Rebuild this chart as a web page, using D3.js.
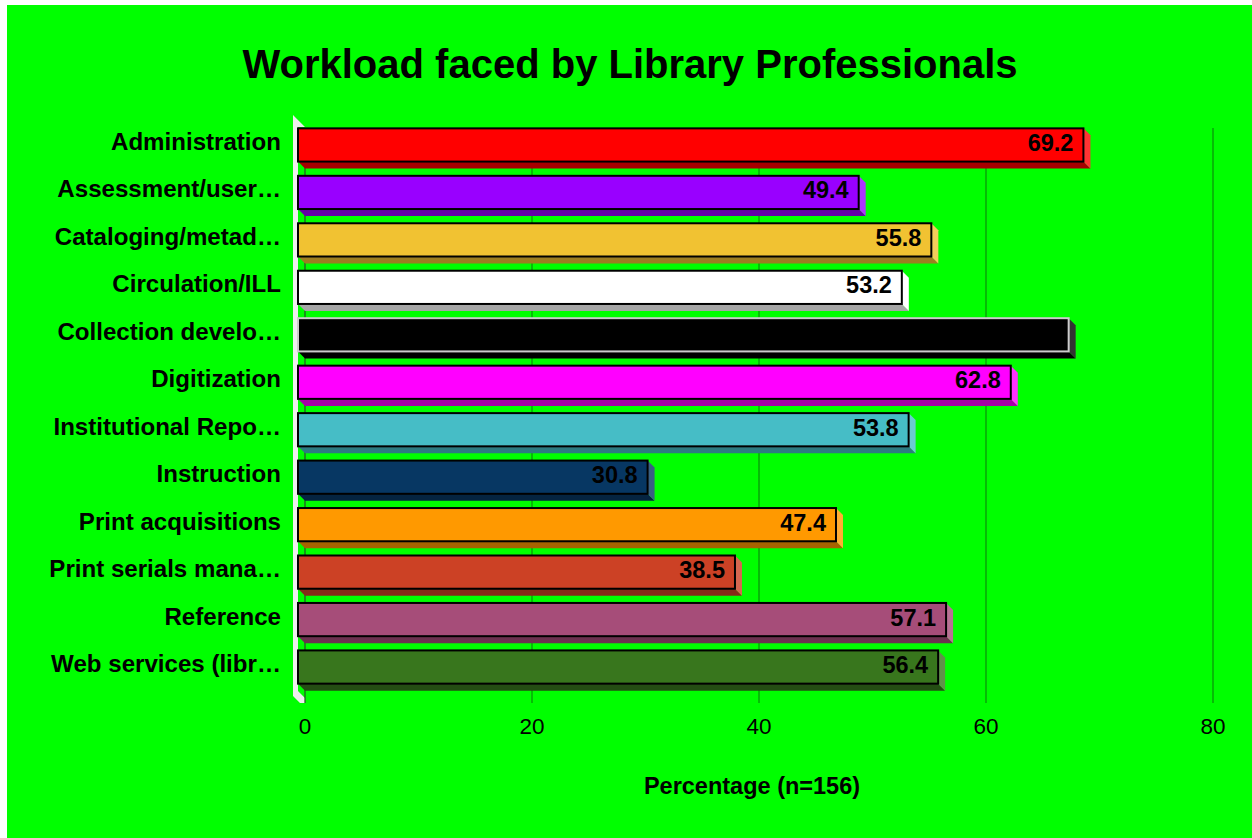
<!DOCTYPE html>
<html>
<head>
<meta charset="utf-8">
<script src="https://cdn.jsdelivr.net/npm/d3@7"></script>
<style>
  html, body { margin: 0; padding: 0; background: #fff; }
  svg { display: block; font-family: "Liberation Sans", Arial, sans-serif; }
</style>
</head>
<body>
<svg id="chart" width="1252" height="838"></svg>
<script>
// chart data
const categories = [
    "Administration", "Assessment/user…", "Cataloging/metad…", "Circulation/ILL",
    "Collection develo…", "Digitization", "Institutional Repo…", "Instruction",
    "Print acquisitions", "Print serials mana…", "Reference", "Web services (libr…"
];
const values = [69.2, 49.4, 55.8, 53.2, 67.9, 62.8, 53.8, 30.8, 47.4, 38.5, 57.1, 56.4];
const barColors = [
    "#ff0000", "#9900ff", "#f1c232", "#ffffff", "#000000", "#ff00ff",
    "#46bdc6", "#073763", "#ff9900", "#cc4125", "#a64d79", "#38761d"
];
const xTicks = [0, 20, 40, 60, 80];

const svg = d3.select('#chart');
const width = 1252;
const height = 838;
const depth = 7;

svg.append('rect')
    .attr('x', 7)
    .attr('y', 5)
    .attr('width', width - 7)
    .attr('height', height - 5)
    .attr('fill', '#00ff00');

const xScale = d3.scaleLinear()
    .domain([0, 80])
    .range([298, 1206]);

const yScale = d3.scaleBand()
    .domain(categories)
    .range([121, 691])
    .paddingInner(0.3)
    .paddingOuter(0.155);

const x0 = xScale(0);
const [yTop, yBottom] = yScale.range();

// left wall
const wallPts = [
    [x0 - 5, yTop - 6], [x0 + depth, yTop + 6], [x0, yTop + 6], [x0, yBottom],
    [x0 + depth, yBottom + depth], [x0 + depth, yBottom + 12], [x0 + 2, yBottom + 12],
    [x0 - 5, yBottom + 5]
];
svg.append('polygon')
    .attr('points', wallPts.map(p => p.join(',')).join(' '))
    .attr('fill', '#eeeeee');

// grid lines on the back plane
svg.append('g')
    .selectAll('line')
    .data(xTicks)
    .enter()
    .append('line')
    .attr('x1', d => xScale(d) + depth)
    .attr('x2', d => xScale(d) + depth)
    .attr('y1', yTop + depth)
    .attr('y2', yBottom + 12)
    .attr('stroke', d => d === 0 ? '#2a4a2a' : '#0b8f0b')
    .attr('stroke-width', 1.2);

svg.append('g')
    .selectAll('text')
    .data(xTicks)
    .enter()
    .append('text')
    .attr('x', d => xScale(d) + depth)
    .attr('y', yBottom + 43)
    .attr('text-anchor', 'middle')
    .attr('font-size', 22.5)
    .attr('fill', '#000')
    .text(d => d);

// bars with 3d faces
const bars = categories.map((c, i) => ({ name: c, value: values[i], color: barColors[i] }));

const barGroups = svg.append('g')
    .selectAll('g')
    .data(bars)
    .enter()
    .append('g');

const pts = arr => arr.map(p => p.join(',')).join(' ');

barGroups.append('polygon')
    .attr('points', d => {
        const y1 = yScale(d.name) + yScale.bandwidth();
        const x1 = xScale(d.value);
        return pts([[x0, y1], [x1, y1], [x1 + depth, y1 + depth], [x0 + depth, y1 + depth]]);
    })
    .attr('fill', d => d3.interpolateRgb(d.color, '#000')(0.35));

barGroups.append('polygon')
    .attr('points', d => {
        const ya = yScale(d.name);
        const yb = ya + yScale.bandwidth();
        const x1 = xScale(d.value);
        return pts([[x1, ya], [x1 + depth, ya + depth], [x1 + depth, yb + depth], [x1, yb]]);
    })
    .attr('fill', d => d.color === '#000000' ? '#333333' : d3.interpolateRgb(d.color, '#fff')(0.2));

barGroups.append('rect')
    .attr('x', x0)
    .attr('y', d => yScale(d.name))
    .attr('width', d => xScale(d.value) - x0)
    .attr('height', yScale.bandwidth())
    .attr('fill', d => d.color)
    .attr('stroke', d => d.color === '#000000' ? '#cccccc' : '#000')
    .attr('stroke-width', 2);

barGroups.append('text')
    .attr('x', d => xScale(d.value) - 10)
    .attr('y', d => yScale(d.name) + yScale.bandwidth() / 2 + 6)
    .attr('text-anchor', 'end')
    .attr('font-size', 23.5)
    .attr('font-weight', 'bold')
    .attr('fill', '#000')
    .text(d => d.value);

// category labels
svg.append('g')
    .selectAll('text')
    .data(categories)
    .enter()
    .append('text')
    .attr('x', x0 - 17)
    .attr('y', d => yScale(d) + yScale.bandwidth() / 2 + 5)
    .attr('text-anchor', 'end')
    .attr('font-size', 24.1)
    .attr('font-weight', 'bold')
    .attr('fill', '#000')
    .text(d => d);

svg.append('text')
    .attr('x', 630)
    .attr('y', 78)
    .attr('text-anchor', 'middle')
    .attr('font-size', 40)
    .attr('font-weight', 'bold')
    .attr('fill', '#000')
    .text('Workload faced by Library Professionals');

svg.append('text')
    .attr('x', (xScale(0) + xScale(80)) / 2)
    .attr('y', 794)
    .attr('text-anchor', 'middle')
    .attr('font-size', 23.5)
    .attr('font-weight', 'bold')
    .attr('fill', '#000')
    .text('Percentage (n=156)');
</script>
</body>
</html>
